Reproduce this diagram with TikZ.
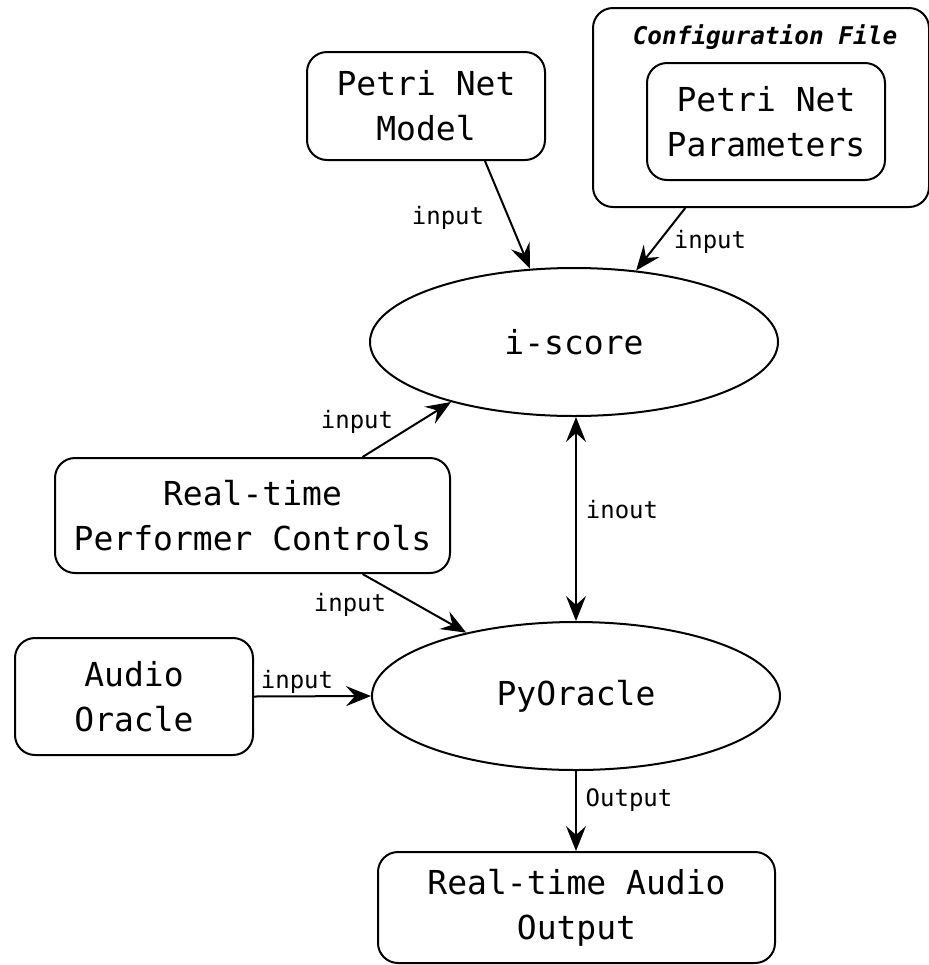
\documentclass[tikz,border=0pt]{standalone}
\usepackage{fontspec}
\setmainfont{DejaVu Sans Mono}
\usetikzlibrary{arrows.meta,shapes.geometric}
\begin{document}
\begin{tikzpicture}[x=0.5pt,y=-0.5pt,line width=1pt,
  box/.style={draw,rounded corners=10pt,inner sep=0pt,align=center,
    font=\fontsize{16.5}{22.5}\selectfont},
  oval/.style={draw,ellipse,inner sep=0pt,minimum width=204pt,minimum height=74pt,
    font=\fontsize{16.5}{22.5}\selectfont},
  lbl/.style={inner sep=0pt,font=\fontsize{12}{14}\selectfont},
  tip/.style={Stealth[length=12.5pt,width=10pt,inset=4.5pt]},
  arr/.style={-{Stealth[length=12.5pt,width=10pt,inset=4.5pt]}},
  darr/.style={{Stealth[length=12.5pt,width=10pt,inset=4.5pt]}-{Stealth[length=12.5pt,width=10pt,inset=4.5pt]}}]
\useasboundingbox (0,0) rectangle (929,965);
% nodes
\node[box,minimum width=119pt,minimum height=54pt] (pnm) at (426,106) {Petri Net\\Model};
\node[box,minimum width=168pt,minimum height=99.5pt] (cfg) at (761,107.5) {};
\node[lbl,font=\fontsize{12.2}{14}\selectfont\bfseries\itshape] (cfgt) at (765,37) {Configuration File};
\node[box,minimum width=119pt,minimum height=58.5pt] (pnp) at (766,121.5) {Petri Net\\Parameters};
\node[oval] (isc) at (574,342) {i-score};
\node[box,minimum width=197.5pt,minimum height=57.5pt] (rpc) at (252.5,515.5) {Real-time\\Performer Controls};
\node[box,minimum width=119pt,minimum height=58.5pt] (ao) at (134,696.5) {Audio\\Oracle};
\node[oval] (py) at (576,696) {PyOracle};
\node[box,minimum width=198.5pt,minimum height=55.5pt] (out) at (576.5,907.5) {Real-time Audio\\Output};
% connectors
\draw[arr] (pnm.-43.4) -- (isc.121.9);
\draw[arr] (cfg.233) -- (isc.49.6);
\draw[arr] (rpc.28.1) -- (isc.206.4);
\draw[arr] (rpc.-28.4) -- (py.150.4);
\draw[arr] (ao.east) -- (py.west);
\draw[darr] (isc.south -| 576,0) -- (py.north);
\draw[arr] (py.south) -- (out.north -| py.south);
% labels
\node[lbl] (l1) at (448,218) {input};
\node[lbl] (l2) at (710,242) {input};
\node[lbl] (l3) at (357,422) {input};
\node[lbl] (l4) at (350,605) {input};
\node[lbl] (l5) at (297,682) {input};
\node[lbl] (l6) at (622,510) {inout};
\node[lbl] (l7) at (629,800) {Output};
\end{tikzpicture}
\end{document}
